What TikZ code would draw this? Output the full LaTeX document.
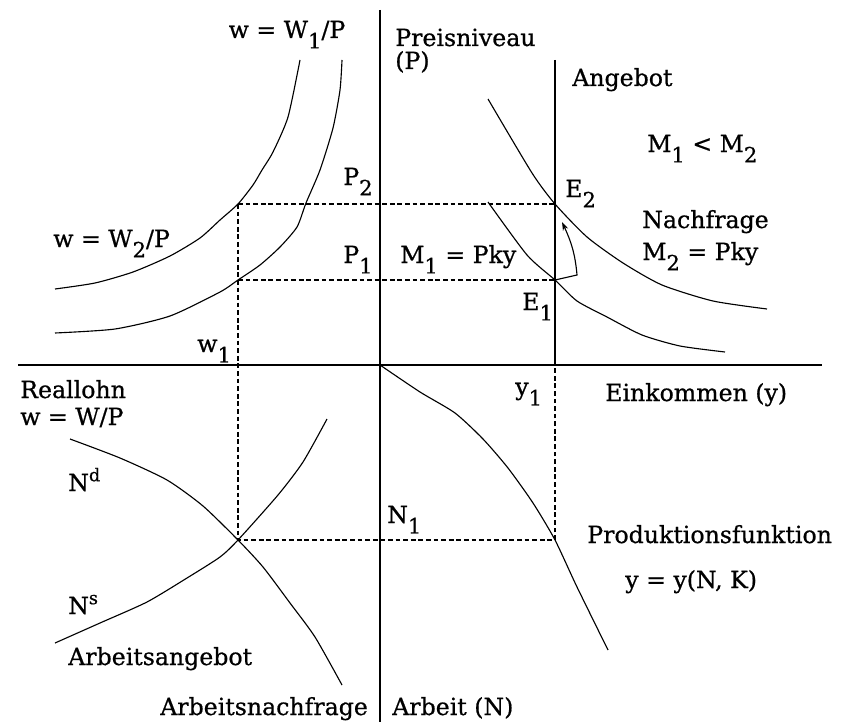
\documentclass[tikz,border=0pt]{standalone}
\usepackage{fontspec}
\setmainfont[FakeBold=0.7]{DejaVu Serif}
\usetikzlibrary{arrows.meta}
\newcommand{\lowidx}[1]{\raisebox{-0.85ex}{\fontsize{15}{15}\selectfont #1}}
\newcommand{\highidx}[1]{\raisebox{0.8ex}{\fontsize{12.5}{12.5}\selectfont #1}}

\begin{document}
\begin{tikzpicture}[x=0.025cm, y=-0.025cm,
    every node/.style={font=\fontsize{16.8}{19}\selectfont, inner sep=0pt},
    axis/.style={line width=1pt},
    curve/.style={line width=0.8pt},
    guide/.style={line width=2pt, dash pattern=on 3.4pt off 2pt}]
  \useasboundingbox (0,0) rectangle (845,722);
  % axes and supply line
  \draw[axis] (380,10) -- (380,722);
  \draw[axis] (18,365) -- (822,365);
  \draw[axis] (555,60) -- (555,365);

  \coordinate (E2) at (555,204);
  \coordinate (E1) at (555,280);
  \coordinate (A2) at (238,204);
  \coordinate (A1) at (238,280);
  \coordinate (L) at (238,540);
  \coordinate (Y) at (555,540);
  \coordinate (Y1) at (555,365);

  % guide lines
  \draw[guide] (A2) -- (E2);
  \draw[guide] (A1) -- (E1);
  \draw[guide] (A2) -- (L) -- (Y) -- (Y1);

  % wage curves
  \draw[curve] plot[smooth, tension=0.4] coordinates {(300,60) (288,117)
    (273,152) (262,170) (253,185) (238,204) (220,220) (200,238) (170,256)
    (133,272) (95,283) (55,289)};
  \draw[curve] plot[smooth, tension=0.4] coordinates {(342,60) (340,90)
    (333,128) (320,170) (306,203) (297,227) (280,247) (260,265) (238,280)
    (220,292) (170,316) (115,329) (55,333)};
  % demand curves
  \draw[curve] plot[smooth, tension=0.4] coordinates {(488,99) (532,173)
    (555,204) (587,237) (623,263) (662,285) (713,301) (767,309)};
  \draw[curve] plot[smooth, tension=0.4] coordinates {(488,202) (527,255)
    (555,280) (577,301) (607,317) (642,335) (680,346) (725,352)};
  % production function
  \draw[curve] plot[smooth, tension=0.4] coordinates {(380,365) (420,392)
    (455,413) (483,439) (508,468) (533,503) (555,540) (577,587) (608,650)};
  % labour market
  \draw[curve] plot[smooth, tension=0.4] coordinates {(70,439) (120,458)
    (167,480) (203,506) (238,540) (263,567) (290,603) (315,637) (342,685)};
  \draw[curve] plot[smooth, tension=0.4] coordinates {(55,643) (100,623)
    (147,602) (187,578) (220,557) (238,540) (278,495) (303,462) (327,419)};

  \draw[curve, -{Stealth[length=6pt, width=4pt]}] (E1)
    -- (577,275) to[out=95, in=-65] (562,222);

  % labels
  \node[anchor=base] (wone) at (287,38) {w = W\lowidx{1}/P};
  \node[anchor=base west] (preis) at (395,46) {Preisniveau};
  \node[anchor=base west] (preisP) at (395,69) {(P)};
  \node[anchor=base west] (angebot) at (572,86) {Angebot};
  \node[anchor=base west] (mcomp) at (647,152) {M\lowidx{1} < M\lowidx{2}};
  \node[anchor=base west] (ptwo) at (343,185) {P\lowidx{2}};
  \node[anchor=base west] (etwo) at (565,197) {E\lowidx{2}};
  \node[anchor=base west] (nachfrage) at (642,228) {Nachfrage};
  \node[anchor=base west] (mtwo) at (642,260) {M\lowidx{2} = Pky};
  \node[anchor=base west] (wtwo) at (53,247) {w = W\lowidx{2}/P};
  \node[anchor=base west] (pone) at (343,263) {P\lowidx{1}};
  \node[anchor=base west] (mone) at (400,263) {M\lowidx{1} = Pky};
  \node[anchor=base west] (eone) at (522,310) {E\lowidx{1}};
  \node[anchor=base west] (wlow) at (197,352) {w\lowidx{1}};
  \node[anchor=base west] (reallohn) at (20,398) {Reallohn};
  \node[anchor=base west] (wdef) at (20,425) {w = W/P};
  \node[anchor=base west] (yone) at (515,395) {y\lowidx{1}};
  \node[anchor=base west] (einkommen) at (605,401) {Einkommen (y)};
  \node[anchor=base west] (nd) at (68,491) {N\highidx{d}};
  \node[anchor=base west] (none) at (387,523) {N\lowidx{1}};
  \node[anchor=base west] (prod) at (587,543) {Produktionsfunktion};
  \node[anchor=base west] (prodf) at (625,588) {y = y(N, K)};
  \node[anchor=base west] (ns) at (68,614) {N\highidx{s}};
  \node[anchor=base west] (angebotN) at (68,665) {Arbeitsangebot};
  \node[anchor=base west] (nachfrageN) at (160,715) {Arbeitsnachfrage};
  \node[anchor=base west] (arbeit) at (392,715) {Arbeit (N)};
\end{tikzpicture}
\end{document}
